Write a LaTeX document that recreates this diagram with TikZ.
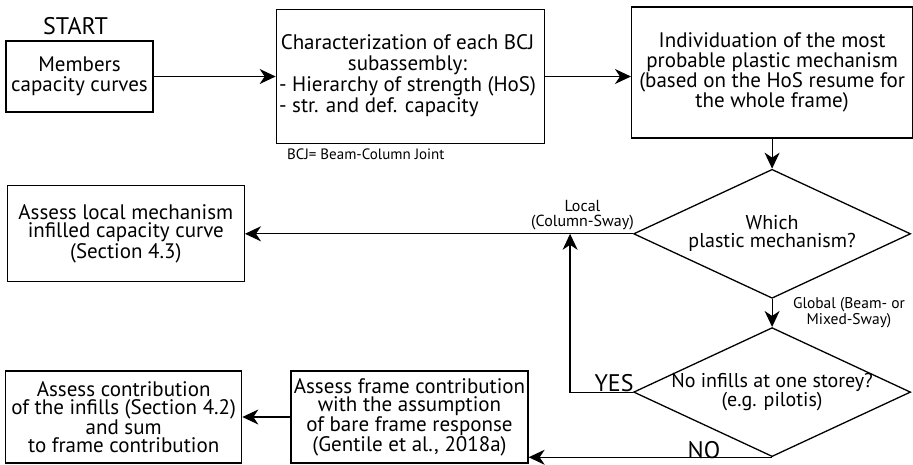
\documentclass[tikz,border=0pt]{standalone}
\usepackage{fontspec}
\setmainfont{PT Sans}
\usepackage{tikz}
\usetikzlibrary{positioning,shapes,arrows.meta,calc}

\begin{document}
\begin{tikzpicture}[x=1pt, y=-1pt,
    box/.style={rectangle, draw, line width=1.3pt, align=center, inner sep=1pt,
                font=\fontsize{21}{20}\selectfont},
    tightbox/.style={box, font=\fontsize{21}{18}\selectfont},
    choice/.style={diamond, draw, line width=1.3pt, align=center, inner sep=-12pt,
                   aspect=2.15, minimum width=277pt, minimum height=129pt,
                   font=\fontsize{20}{18}\selectfont},
    flow/.style={line width=1.2pt, -{Stealth[length=16pt,width=15pt,inset=5pt]}},
    note/.style={font=\fontsize{15}{15}\selectfont, align=center},
    big/.style={font=\fontsize{24}{26}\selectfont}]
    \useasboundingbox (0,0) rectangle (913,464);

    % Members
    \node[box, minimum width=147pt, minimum height=71pt] (members) at (79.5,76.5) {
        Members \\ capacity curves
    };
    \node[big, above=5pt of members, xshift=-4pt, inner sep=0pt] (start) {START};

    % BCJ subassembly
    \node[box, minimum width=268pt, minimum height=134pt, right=122pt of members] (charac) {
        \begin{tabular}{@{}l@{}}
            \multicolumn{1}{@{}c@{}}{Characterization of each BCJ} \\
            \multicolumn{1}{@{}c@{}}{subassembly:} \\
            - Hierarchy of strength (HoS) \\
            - str. and def. capacity
        \end{tabular}
    };
    \node[note, below right=1pt and 8pt of charac.south west] (bcj) {BCJ= Beam-Column Joint};

    % Plastic mechanism
    \node[box, minimum width=281pt, minimum height=131pt, right=86pt of charac, yshift=4pt] (individ) {
        Individuation of the most \\
        probable plastic mechanism \\
        (based on the HoS resume for \\
        the whole frame)
    };

    % Decisions
    \node[choice, below=30pt of individ] (which) {Which \\ plastic mechanism?};
    \node[choice, below=28pt of which] (noinf) {No infills at one storey? \\ (e.g. pilotis)};

    % Local mechanism
    \node[tightbox, minimum width=237pt, minimum height=96pt, left=388pt of which] (local) {
        Assess local mechanism \\
        infilled capacity curve \\
        (Section 4.3)
    };

    % Bare frame and infills
    \node[tightbox, minimum width=237pt, minimum height=92pt] (frame) at (409.5,417) {
        Assess frame contribution \\
        with the assumption \\
        of bare frame response \\
        (Gentile et al., 2018a)
    };
    \node[tightbox, minimum width=236pt, minimum height=92pt, left=48pt of frame] (infill) {
        Assess contribution \\
        of the infills (Section 4.2) \\
        and sum \\
        to frame contribution
    };

    \path (which.west) -- (local.east) coordinate[pos=0.162] (merge);

    \draw[flow] (members) -- (charac);
    \draw[flow] (charac.east) -- (charac.east -| individ.west);
    \draw[flow] (individ) -- (which);
    \draw[flow] (which.west) -- (local.east)
        node[note, pos=0.13, above, font=\fontsize{16}{15}\selectfont] {Local \\ (Column-Sway)};
    \draw[flow] (which) -- (noinf)
        node[note, midway, right=17pt, font=\fontsize{15.5}{16}\selectfont] {Global (Beam- or \\ Mixed-Sway)};
    \draw[flow] (noinf.west) -| (merge)
        node[big, pos=0.15, above=-4pt] {YES};
    \draw[flow] (noinf.south) -- (noinf.south -| frame.east)
        node[big, pos=0.28, above=-5pt] {NO};
    \draw[flow] (frame) -- (infill);
\end{tikzpicture}
\end{document}
